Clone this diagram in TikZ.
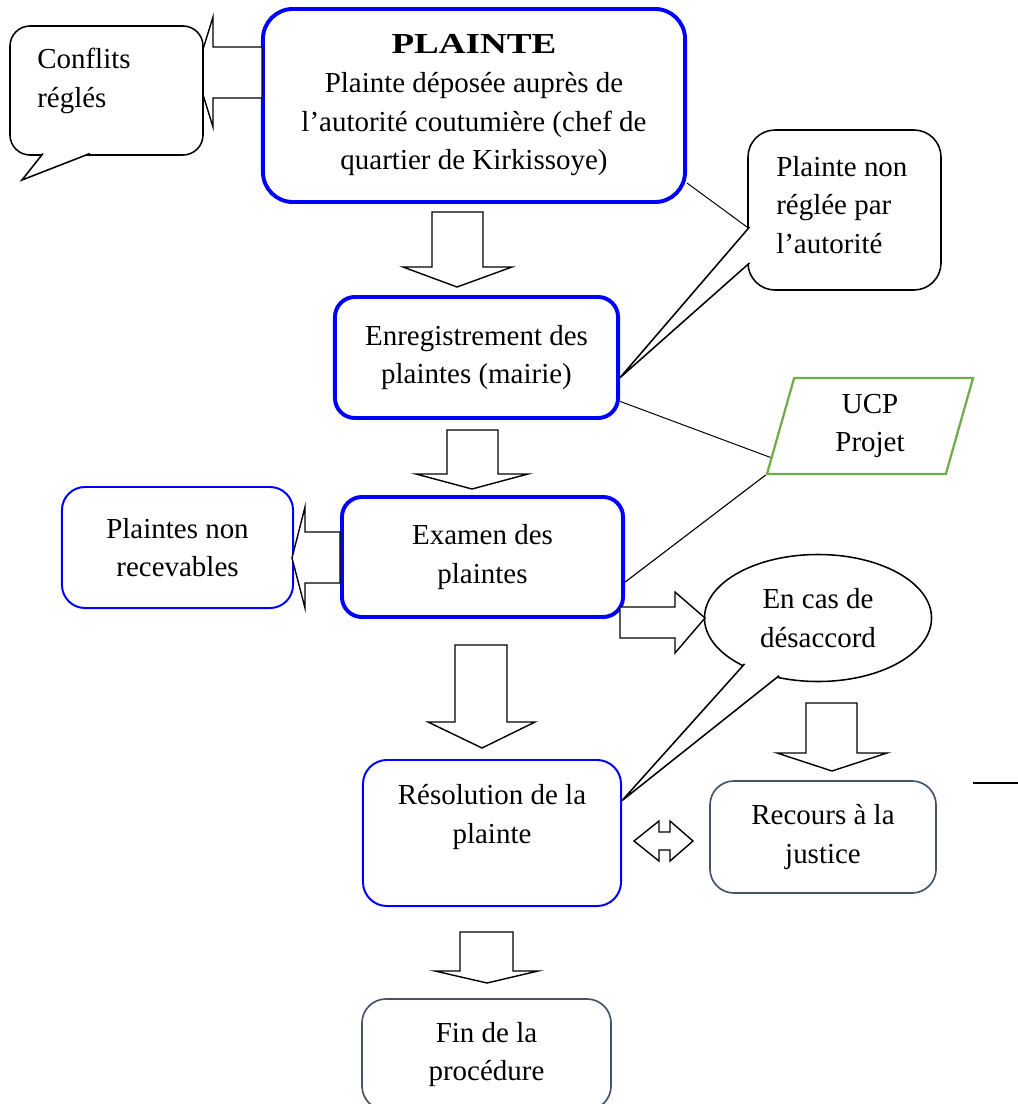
\documentclass[tikz,border=0pt]{standalone}
\usepackage{fontspec}
\usepackage{graphicx}
\setmainfont{Liberation Serif}
\usetikzlibrary{shapes.geometric,calc}

\definecolor{slate}{HTML}{44546A}
\definecolor{leaf}{HTML}{70AD47}

\tikzset{
	txt/.style={font=\fontsize{20.6}{27.5}\selectfont, inner sep=0pt, align=center},
	mainbox/.style={txt, draw=blue, line width=2.8pt, rounded corners=0.5cm, fill=white},
	sidebox/.style={txt, draw=blue, line width=1.4pt, rounded corners=0.6cm, fill=white},
	greybox/.style={txt, draw=slate, line width=1.2pt, rounded corners=0.6cm, fill=white},
	blockarrow/.style={draw, fill=white, line width=1pt, line join=miter},
	bubble/.style={draw, fill=white, line width=1.1pt},
	bubbletail/.style={draw, fill=white, line width=1.1pt, line join=miter},
	thinline/.style={line width=0.7pt},
}

\begin{document}
\begin{tikzpicture}[x=0.025cm, y=-0.025cm]
	\useasboundingbox (0,0) rectangle (1018,1104);

	% boxes of the procedure
	\node[mainbox, minimum width=10.55cm, minimum height=4.825cm, rounded corners=0.75cm] (plainte) at (474,105.5)
		{\scalebox{1.28}[1]{\textbf{PLAINTE}}\\Plainte déposée auprès de\\l’autorité coutumière (chef de\\quartier de Kirkissoye)};
	\node[mainbox, minimum width=7.075cm, minimum height=3.025cm] (enreg) at (476.5,357.5) {Enregistrement des\\plaintes (mairie)};
	\node[mainbox, minimum width=7.025cm, minimum height=3cm] (exam) at (482.5,557) {Examen des\\plaintes};
	\node[sidebox, minimum width=5.775cm, minimum height=3.025cm, rounded corners=0.575cm] (nonrec) at (177.5,547.5) {Plaintes non\\recevables};
	\node[sidebox, minimum width=6.45cm, minimum height=3.65cm, text depth=27pt] (res) at (492,833) {Résolution de la\\plainte};
	\node[greybox, minimum width=5.65cm, minimum height=2.8cm] (recours) at (823,837) {Recours à la\\justice};
	\node[greybox, minimum width=6.225cm, minimum height=2.775cm] (fin) at (486.5,1054.5) {Fin de la\\procédure};

	\node[txt, trapezium, trapezium left angle=67, trapezium right angle=113, trapezium stretches body,
		draw=leaf, line width=1.6pt, minimum width=5.15cm, minimum height=2.4cm] (ucp) at (870,426) {UCP\\Projet};
	\node[txt, ellipse, draw, line width=1.1pt, fill=white, minimum width=5.675cm, minimum height=3.175cm] (desac) at (818,618) {En cas de\\désaccord};

	% block arrows
	\draw[blockarrow] (262,47) -- (213,47) -- (213,17) -- (196,72) -- (213,127) -- (213,98) -- (262,98) -- cycle;
	\draw[blockarrow] (432,212) -- (483,212) -- (483,267) -- (512,267) -- (457,287) -- (403,267) -- (432,267) -- cycle;
	\draw[blockarrow] (447,430) -- (498,430) -- (498,474) -- (528,474) -- (472,489) -- (416,474) -- (447,474) -- cycle;
	\draw[blockarrow] (340,532) -- (305,532) -- (305,507) -- (292,558) -- (305,608) -- (305,583) -- (340,583) -- cycle;
	\draw[blockarrow] (620,607) -- (675,607) -- (675,592) -- (705,618) -- (675,653) -- (675,638) -- (620,638) -- cycle;
	\draw[blockarrow] (455,645) -- (507,645) -- (507,722) -- (535,722) -- (482,748) -- (428,722) -- (455,722) -- cycle;
	\draw[blockarrow] (806,703) -- (857,703) -- (857,753) -- (887,753) -- (832,771) -- (777,753) -- (806,753) -- cycle;
	\draw[blockarrow] (634,841) -- (659,821) -- (659,832) -- (670,832) -- (670,821) -- (693,841) -- (670,861) -- (670,850) -- (659,850) -- (659,861) -- cycle;
	\draw[blockarrow] (460,932) -- (513,932) -- (513,971) -- (538,971) -- (487,983) -- (435,971) -- (460,971) -- cycle;

	% callouts
	\draw[bubble, rounded corners=0.5cm] (10,26) rectangle (203,155);
	\filldraw[bubbletail] (43,153.5) -- (22,180) -- (90,153.5);
	\node[txt, align=left, anchor=west] (conf) at (37,81) {Conflits\\réglés};

	\draw[bubble, rounded corners=0.675cm] (748,130) rectangle (941,290);
	\coordinate (nrtop) at (747,227);
	\filldraw[bubbletail] (749.5,227) -- (enreg.-8) -- (749.5,263);
	\node[txt, align=left, anchor=west] (nonreg) at (776,205) {Plainte non\\réglée par\\l’autorité};

	\filldraw[bubbletail] ($(desac.center)!0.96!(desac.212)$) -- (res.14) -- ($(desac.center)!0.96!(desac.236)$);

	% thin links
	\draw[thinline] (plainte.-20) -- (nrtop);
	\draw[thinline] (enreg.-17) -- ($(ucp.bottom left corner)!0.18!(ucp.top left corner)$);
	\draw[line width=0.8pt] (exam.-10) -- (ucp.bottom left corner);

	\coordinate (stubA) at (973,783);
	\coordinate (stubB) at (1018,783);
	\draw[line width=1pt] (stubA) -- (stubB);
\end{tikzpicture}
\end{document}
